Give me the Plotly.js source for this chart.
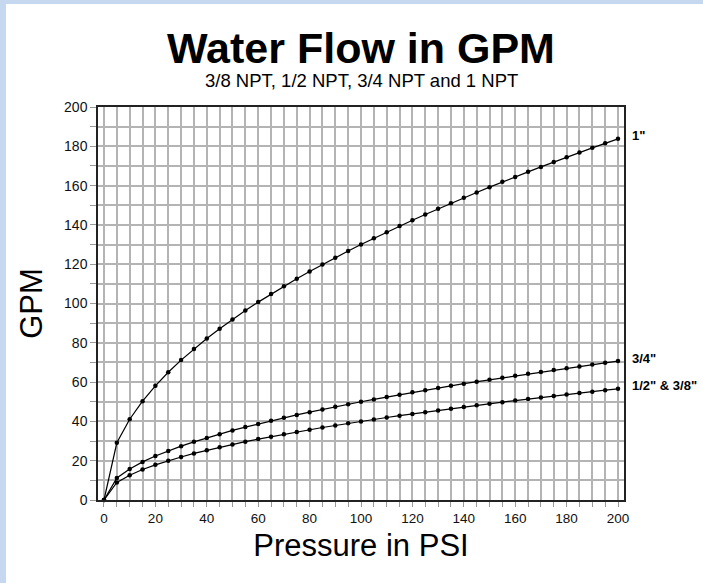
<!DOCTYPE html>
<html>
<head>
<meta charset="utf-8">
<script src="https://cdn.plot.ly/plotly-3.0.1.min.js"></script>
<style>
html,body{margin:0;padding:0;background:#fff;overflow:hidden;}
#wrap{width:697px;height:579px;border-left:6px solid #c6d8f0;border-top:4px solid #c6d8f0;}
#chart{width:697px;height:579px;}
</style>
</head>
<body>
<div id="wrap"><div id="chart"></div></div>
<script>
const pressure = [0,5,10,15,20,25,30,35,40,45,50,55,60,65,70,75,80,85,90,95,100,105,110,115,120,125,130,135,140,145,150,155,160,165,170,175,180,185,190,195,200];
const gpm1in = [0,29.1,41.1,50.3,58.1,65.0,71.2,76.9,82.2,87.2,91.9,96.4,100.7,104.8,108.8,112.6,116.3,119.9,123.3,126.7,130.0,133.2,136.3,139.4,142.4,145.3,148.2,151.0,153.8,156.5,159.2,161.9,164.4,167.0,169.5,172.0,174.4,176.8,179.2,181.5,183.8];
const gpm34 = [0,11.2,15.8,19.4,22.4,25.0,27.4,29.6,31.6,33.5,35.4,37.1,38.7,40.3,41.8,43.3,44.7,46.1,47.4,48.7,50.0,51.2,52.4,53.6,54.8,55.9,57.0,58.1,59.2,60.2,61.2,62.2,63.2,64.2,65.2,66.1,67.1,68.0,68.9,69.8,70.7];
const gpm12 = [0,8.9,12.6,15.5,17.9,20.0,21.9,23.7,25.3,26.8,28.3,29.7,31.0,32.2,33.5,34.6,35.8,36.9,37.9,39.0,40.0,41.0,42.0,42.9,43.8,44.7,45.6,46.5,47.3,48.2,49.0,49.8,50.6,51.4,52.2,52.9,53.7,54.4,55.1,55.9,56.6];
const seriesNames = ['1"', '3/4"', '1/2" & 3/8"'];
const seriesValues = [gpm1in, gpm34, gpm12];

const traces = seriesValues.map((v, i) => ({
  x: pressure, y: v, type: 'scatter', mode: 'lines+markers', name: seriesNames[i],
  line: {color: '#000', width: 1.2},
  marker: {color: '#000', size: 4.5},
  cliponaxis: false, hoverinfo: 'x+y+name'
}));

const annotations = seriesValues.map((v, i) => ({
  x: pressure[pressure.length - 1], y: v[v.length - 1], xref: 'x', yref: 'y',
  text: '<b>' + seriesNames[i] + '</b>', showarrow: false,
  xanchor: 'left', yanchor: 'middle', xshift: 12, yshift: 3,
  font: {family: 'Liberation Sans, Arial, sans-serif', size: 13, color: '#000'}
}));
annotations.push({
  text: '3/8 NPT, 1/2 NPT, 3/4 NPT and 1 NPT', xref: 'paper', yref: 'paper',
  x: 0.5, y: 1.068, xanchor: 'center', yanchor: 'middle', showarrow: false,
  font: {family: 'Liberation Sans, Arial, sans-serif', size: 18.5, color: '#000'}
});

const layout = {
  width: 697, height: 579,
  margin: {l: 92, r: 79, t: 103, b: 83},
  paper_bgcolor: '#fff', plot_bgcolor: '#fff',
  showlegend: false,
  title: {
    text: '<b>Water Flow in GPM</b>', x: 0.5, xref: 'paper', xanchor: 'center',
    y: 0.924, yref: 'container', yanchor: 'middle',
    font: {family: 'Liberation Sans, Arial, sans-serif', size: 43, color: '#000'}
  },
  xaxis: {
    range: [-2.33, 202.33], tickmode: 'linear', tick0: 0, dtick: 20,
    showgrid: true, gridcolor: '#b4b4b4', gridwidth: 1.5,
    minor: {dtick: 5, tick0: 0, showgrid: true, gridcolor: '#b4b4b4', gridwidth: 1.5, ticks: 'outside', ticklen: 5, tickcolor: '#999'},
    ticks: 'outside', ticklen: 5, tickcolor: '#999',
    showline: true, linecolor: '#222', linewidth: 1.5, mirror: true,
    zeroline: false,
    tickfont: {family: 'Liberation Sans, Arial, sans-serif', size: 13.5, color: '#111'},
    title: {text: 'Pressure in PSI', standoff: 9,
      font: {family: 'Liberation Sans, Arial, sans-serif', size: 31, color: '#000'}}
  },
  yaxis: {
    range: [0, 200], tickmode: 'linear', tick0: 0, dtick: 20,
    showgrid: true, gridcolor: '#b4b4b4', gridwidth: 1.5,
    minor: {dtick: 10, tick0: 0, showgrid: true, gridcolor: '#b4b4b4', gridwidth: 1.5, ticks: 'outside', ticklen: 6, tickcolor: '#999'},
    ticks: 'outside', ticklen: 6, tickcolor: '#999',
    showline: true, linecolor: '#222', linewidth: 1.5, mirror: true,
    zeroline: false,
    tickfont: {family: 'Liberation Sans, Arial, sans-serif', size: 14, color: '#111'},
    title: {text: 'GPM', standoff: 12,
      font: {family: 'Liberation Sans, Arial, sans-serif', size: 31, color: '#000'}}
  },
  annotations: annotations
};

Plotly.newPlot('chart', traces, layout, {displayModeBar: false, responsive: false});
</script>
</body>
</html>
